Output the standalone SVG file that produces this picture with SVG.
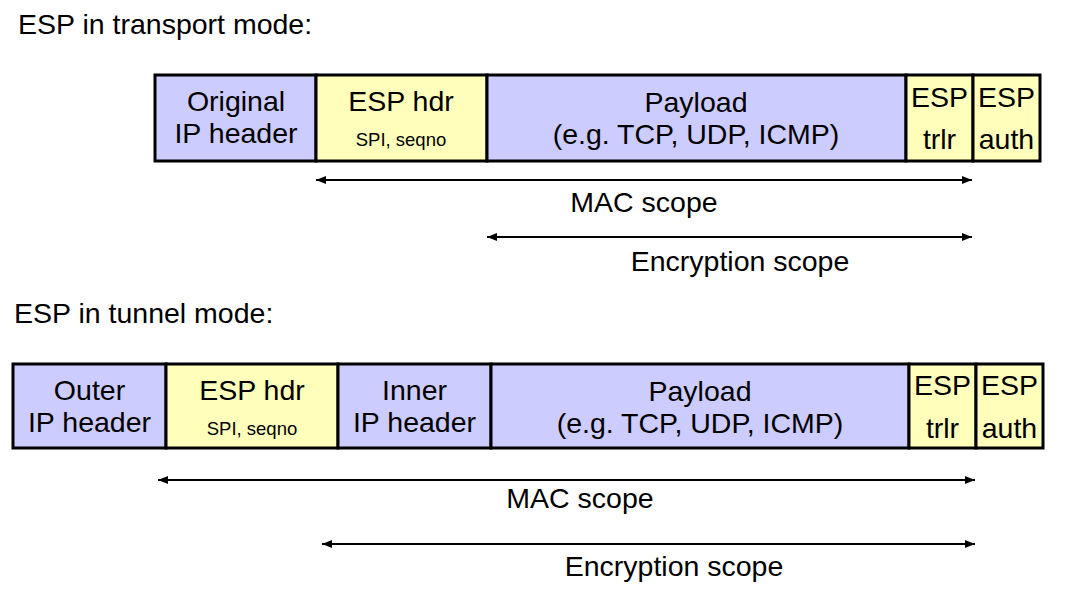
<svg xmlns="http://www.w3.org/2000/svg" width="1070" height="596" viewBox="0 0 1070 596">
<defs>
<style>
text{font-family:"Liberation Sans",Arial,sans-serif;fill:#000;}
.t{font-size:28.5px;}
.c{text-anchor:middle;}
.s{font-size:18.5px;}
.p{fill:#ccccff;stroke:#000;stroke-width:3;}
.y{fill:#ffffbb;stroke:#000;stroke-width:3;}
.a{stroke:#000;stroke-width:2;fill:none;marker-start:url(#ah);marker-end:url(#ah);}
</style>
<marker id="ah" viewBox="0 0 10 8" refX="10" refY="4" markerWidth="10" markerHeight="8" markerUnits="userSpaceOnUse" orient="auto-start-reverse">
<path d="M0,0 L10,4 L0,8 Z" fill="#000"/>
</marker>
</defs>
<rect width="1070" height="596" fill="#fff"/>
<text class="t" x="18" y="34">ESP in transport mode:</text>
<text class="t" x="14" y="323">ESP in tunnel mode:</text>

<g id="t-ip">
<rect class="p" x="155" y="75" width="161" height="86"/>
<text class="t c" x="236" y="111">Original</text>
<text class="t c" x="236" y="143">IP header</text>
</g>
<g id="t-esphdr">
<rect class="y" x="316" y="75" width="171" height="86"/>
<text class="t c" x="401" y="111">ESP hdr</text>
<text class="s c" x="401" y="146">SPI, seqno</text>
</g>
<g id="t-payload">
<rect class="p" x="487" y="75" width="419" height="86"/>
<text class="t c" x="696" y="112">Payload</text>
<text class="t c" x="696" y="144">(e.g. TCP, UDP, ICMP)</text>
</g>
<g id="t-trlr">
<rect class="y" x="906" y="75" width="67" height="86"/>
<text class="t c" x="939.5" y="107">ESP</text>
<text class="t c" x="939.5" y="149">trlr</text>
</g>
<g id="t-auth">
<rect class="y" x="973" y="75" width="67" height="86"/>
<text class="t c" x="1006.5" y="107">ESP</text>
<text class="t c" x="1006.5" y="149">auth</text>
</g>

<g id="u-outer">
<rect class="p" x="13" y="364" width="153" height="84"/>
<text class="t c" x="89.5" y="400">Outer</text>
<text class="t c" x="89.5" y="432">IP header</text>
</g>
<g id="u-esphdr">
<rect class="y" x="166" y="364" width="172" height="84"/>
<text class="t c" x="252" y="400">ESP hdr</text>
<text class="s c" x="252" y="435">SPI, seqno</text>
</g>
<g id="u-inner">
<rect class="p" x="338" y="364" width="153" height="84"/>
<text class="t c" x="414.5" y="400">Inner</text>
<text class="t c" x="414.5" y="432">IP header</text>
</g>
<g id="u-payload">
<rect class="p" x="491" y="364" width="418" height="84"/>
<text class="t c" x="700" y="401">Payload</text>
<text class="t c" x="700" y="433">(e.g. TCP, UDP, ICMP)</text>
</g>
<g id="u-trlr">
<rect class="y" x="909" y="364" width="67" height="84"/>
<text class="t c" x="942.5" y="395">ESP</text>
<text class="t c" x="942.5" y="438">trlr</text>
</g>
<g id="u-auth">
<rect class="y" x="976" y="364" width="67" height="84"/>
<text class="t c" x="1009.5" y="395">ESP</text>
<text class="t c" x="1009.5" y="438">auth</text>
</g>

<g id="connectors">
<line class="a" x1="316" y1="180" x2="972" y2="180"/>
<line class="a" x1="487" y1="237" x2="972" y2="237"/>
<line class="a" x1="158" y1="480" x2="975" y2="480"/>
<line class="a" x1="322" y1="544" x2="975" y2="544"/>
</g>
<text class="t c" x="644" y="212">MAC scope</text>
<text class="t c" x="740" y="271">Encryption scope</text>
<text class="t c" x="580" y="508">MAC scope</text>
<text class="t c" x="674" y="576">Encryption scope</text>
</svg>
